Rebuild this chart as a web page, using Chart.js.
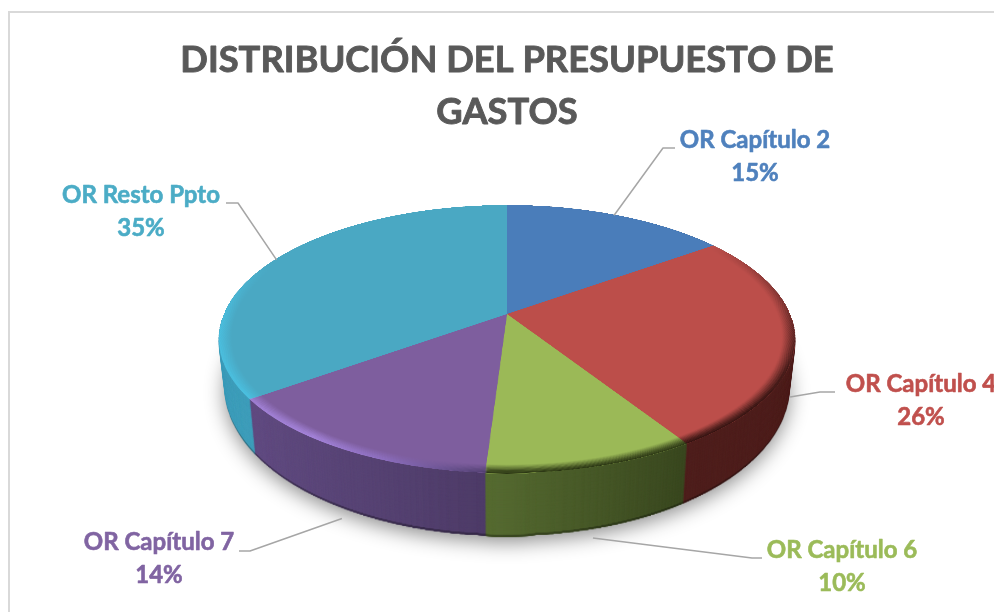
<!DOCTYPE html>
<html>
<head>
<meta charset="utf-8">
<script src="https://cdn.jsdelivr.net/npm/chart.js@4"></script>
<style>html,body{margin:0;padding:0;background:#fff}canvas{display:block}</style>
</head>
<body>
<canvas id="c" width="994" height="612"></canvas>
<script>
// ---- data ----
const titleLines = ['DISTRIBUCIÓN DEL PRESUPUESTO DE', 'GASTOS'];
const categories = ['OR Capítulo 2', 'OR Capítulo 4', 'OR Capítulo 6', 'OR Capítulo 7', 'OR Resto Ppto'];
const values = [15, 26, 10, 14, 35];
const faceColors = ['#4a7dba', '#bc4e4a', '#9bb957', '#7e5e9e', '#4aa8c3'];
const labelColors = ['#4f81bd', '#c0504d', '#9bbb59', '#8064a2', '#4bacc6'];
// wall colour stops per slice: [left-to-right across the pie]
const wallColors = [['#2a4566', '#2a4566'], ['#4f1f1d', '#4f1f1d'], ['#566b31', '#3a4820'], ['#624c82', '#4e3c68'], ['#3f9ebb', '#3f9ebb']];
const wallSpans = [[0, 1], [0, 1], [-0.06, 0.53], [-0.81, -0.06], [-1, 0]];

// ---- layout ----
const P = {cx: 507, cy: 314, A: 283, B: 129.3, k: 0.187};
const TOP = {yc: 339, ry: 134, rx: 288};
const BOTTOM = {yc: 387, ry: 149, rx: 282};
const labelCenters = [[755, 148], [921, 392], [842, 558], [159, 550], [141, 203]];
const leaderDrops = [0, 58, 71, 69, 0];
const leaderShifts = [-3, -5, 0, -2, 2];
const leaderElbows = [[[663, 148], [675, 148]], [[820, 392], [835, 392]], [[752, 558], [762, 558]], [[250, 551], [239, 551]], [[238, 203], [226, 203]]];
const Rn = 500;
const titleFont = {family: 'Lato', size: 36.3, weight: 'bold', lineHeight: 1.43};

function project(theta) {
  const u = Math.sin(theta), v = -Math.cos(theta), w = 1 - P.k * v;
  return [P.cx + P.A * u / w, P.cy + P.B * v / w];
}
function newCanvas(w, h) { const c = document.createElement('canvas'); c.width = w; c.height = h; return c; }
function warp(src, dst) {
  const y0 = Math.floor(P.cy - P.B / (1 + P.k)) - 1, y1 = Math.ceil(P.cy + P.B / (1 - P.k)) + 1;
  for (let y = y0; y < y1; y++) {
    const a = y - P.cy, b = a + 1;
    const v0 = Math.max(-1, a / (P.B + P.k * a)), v1 = Math.min(1, b / (P.B + P.k * b));
    if (v1 <= v0) continue;
    const half = P.A / (1 - P.k * (v0 + v1) / 2);
    dst.drawImage(src, 0, (v0 + 1) * Rn, 2 * Rn, (v1 - v0) * Rn, P.cx - half, y, 2 * half, 1);
  }
}
function paintArcs(ctx, arcs, fillFor, passes) {
  const a0 = arcs[0], S = Rn / a0.outerRadius;
  ctx.setTransform(S, 0, 0, S, Rn - a0.x * S, Rn - a0.y * S);
  for (let p = 0; p < passes; p++) {
    arcs.forEach((arc, i) => {
      const base = arc.options;
      arc.options = Object.create(base, {
        backgroundColor: {value: fillFor(i, arc, ctx)},
        borderWidth: {value: 0}
      });
      arc.draw(ctx);
      arc.options = base;
    });
  }
}
const rimStops = [
  [0, 'rgba(0,0,0,0)'], [0.15, 'rgba(0,0,0,0)'], [0.24, 'rgba(30,10,10,0.3)'], [0.32, 'rgba(35,12,10,0.7)'],
  [0.41, 'rgba(35,12,10,0.85)'], [0.411, 'rgba(35,45,15,0.85)'], [0.509, 'rgba(35,45,15,0.85)'],
  [0.51, 'rgba(70,55,100,0.7)'], [0.56, 'rgba(150,120,210,0.55)'], [0.60, 'rgba(178,145,240,0.65)'], [0.65, 'rgba(178,145,240,0.5)'],
  [0.651, 'rgba(75,205,240,0.5)'], [0.74, 'rgba(75,205,240,0.45)'], [0.82, 'rgba(75,205,240,0)'], [1, 'rgba(75,205,240,0)']
];

const pie3d = {
  id: 'pie3d',
  beforeDraw(chart) {
    const c = chart.ctx;
    c.save();
    c.fillStyle = '#fff'; c.fillRect(0, 0, 994, 612);
    c.strokeStyle = '#d9d9d9'; c.lineWidth = 2;
    c.beginPath(); c.moveTo(9, 612); c.lineTo(9, 12); c.lineTo(994, 12); c.stroke();
    c.restore();
  },
  beforeDatasetsDraw(chart) {
    const c = chart.ctx, arcs = chart.getDatasetMeta(0).data;
    const R = arcs[0].outerRadius, ax = arcs[0].x, ay = arcs[0].y;

    // wall colour layer
    const wallSrc = newCanvas(2 * Rn, 2 * Rn), ws = wallSrc.getContext('2d');
    paintArcs(ws, arcs, (i, arc, ctx) => {
      const g = ctx.createLinearGradient(ax + wallSpans[i][0] * R, 0, ax + wallSpans[i][1] * R, 0);
      g.addColorStop(0, wallColors[i][0]); g.addColorStop(1, wallColors[i][1]);
      return g;
    }, 3);
    const wall = newCanvas(994, 612); warp(wallSrc, wall.getContext('2d'));
    const wallDark = newCanvas(994, 612), wd = wallDark.getContext('2d');
    wd.drawImage(wall, 0, 0);
    wd.globalCompositeOperation = 'source-atop'; wd.fillStyle = 'rgba(0,0,0,0.3)'; wd.fillRect(0, 0, 994, 612);

    // face layer with bevelled rim
    const faceSrc = newCanvas(2 * Rn, 2 * Rn), fs = faceSrc.getContext('2d');
    paintArcs(fs, arcs, i => faceColors[i], 3);
    fs.save();
    fs.beginPath(); fs.arc(ax, ay, R, 0, Math.PI * 2); fs.clip();
    const cg = fs.createConicGradient(-Math.PI / 2, ax, ay);
    rimStops.forEach(s => cg.addColorStop(s[0], s[1]));
    fs.strokeStyle = cg;
    const N = 16, inner = 0.955;
    fs.lineWidth = R * (1 - inner) / N + 0.4;
    for (let i = 1; i <= N; i++) {
      fs.globalAlpha = Math.pow(i / N, 1.2);
      fs.beginPath(); fs.arc(ax, ay, R * (inner + (1 - inner) * i / N), 0, Math.PI * 2); fs.stroke();
    }
    fs.restore();
    const face = newCanvas(994, 612); warp(faceSrc, face.getContext('2d'));

    // stack the wall from the bottom plane up to the face
    const steps = 80;
    c.save();
    for (let s = steps; s >= 0; s--) {
      const t = s / steps;
      const rx = TOP.rx + (BOTTOM.rx - TOP.rx) * t;
      const ry = TOP.ry + (BOTTOM.ry - TOP.ry) * t;
      const yc = TOP.yc + (BOTTOM.yc - TOP.yc) * t;
      const sx = rx / TOP.rx, sy = ry / TOP.ry;
      c.setTransform(sx, 0, 0, sy, P.cx - P.cx * sx, yc - TOP.yc * sy);
      if (s === steps) {
        c.shadowColor = 'rgba(0,0,0,0.45)'; c.shadowBlur = 20; c.shadowOffsetX = 0; c.shadowOffsetY = 5;
      } else { c.shadowColor = 'transparent'; c.shadowBlur = 0; c.shadowOffsetY = 0; }
      c.drawImage(s > steps - 3 ? wallDark : wall, 0, 0);
    }
    c.setTransform(1, 0, 0, 1, 0, 0);
    c.drawImage(face, 0, 0);
    c.restore();
    return false;
  },
  afterDraw(chart) {
    const c = chart.ctx, arcs = chart.getDatasetMeta(0).data;
    c.save();
    c.strokeStyle = '#a6a6a6'; c.lineWidth = 1.5; c.lineJoin = 'round';
    arcs.forEach((arc, i) => {
      const theta = (arc.startAngle + arc.endAngle) / 2 + Math.PI / 2;
      const p = project(theta);
      c.beginPath(); c.moveTo(p[0] + leaderShifts[i], p[1] + leaderDrops[i]);
      leaderElbows[i].forEach(e => c.lineTo(e[0], e[1]));
      c.stroke();
    });
    c.lineJoin = 'round';
    c.font = 'bold 24px Lato'; c.textAlign = 'center'; c.textBaseline = 'alphabetic'; c.lineWidth = 0.6;
    categories.forEach((name, i) => {
      c.fillStyle = c.strokeStyle = labelColors[i];
      [name, values[i] + '%'].forEach((txt, j) => {
        c.fillText(txt, labelCenters[i][0], labelCenters[i][1] + 33 * j);
        c.strokeText(txt, labelCenters[i][0], labelCenters[i][1] + 33 * j);
      });
    });
    // heavier title strokes, following the library's title block
    const tb = chart.titleBlock, lh = titleFont.size * titleFont.lineHeight;
    c.font = 'bold ' + titleFont.size + 'px Lato'; c.textBaseline = 'middle'; c.strokeStyle = '#595959'; c.lineWidth = 0.9;
    titleLines.forEach((txt, j) => c.strokeText(txt, (tb.left + tb.right) / 2, tb.top + lh * (j + 0.5)));
    c.restore();
  }
};

new Chart(document.getElementById('c'), {
  type: 'pie',
  data: {labels: categories, datasets: [{data: values, backgroundColor: faceColors, borderWidth: 0}]},
  options: {
    responsive: false,
    animation: false,
    layout: {padding: {left: 20, top: 34}},
    plugins: {
      legend: {display: false},
      tooltip: {enabled: false},
      title: {display: true, text: titleLines, color: '#595959', font: titleFont, padding: 0}
    }
  },
  plugins: [pie3d]
});
</script>
</body>
</html>
